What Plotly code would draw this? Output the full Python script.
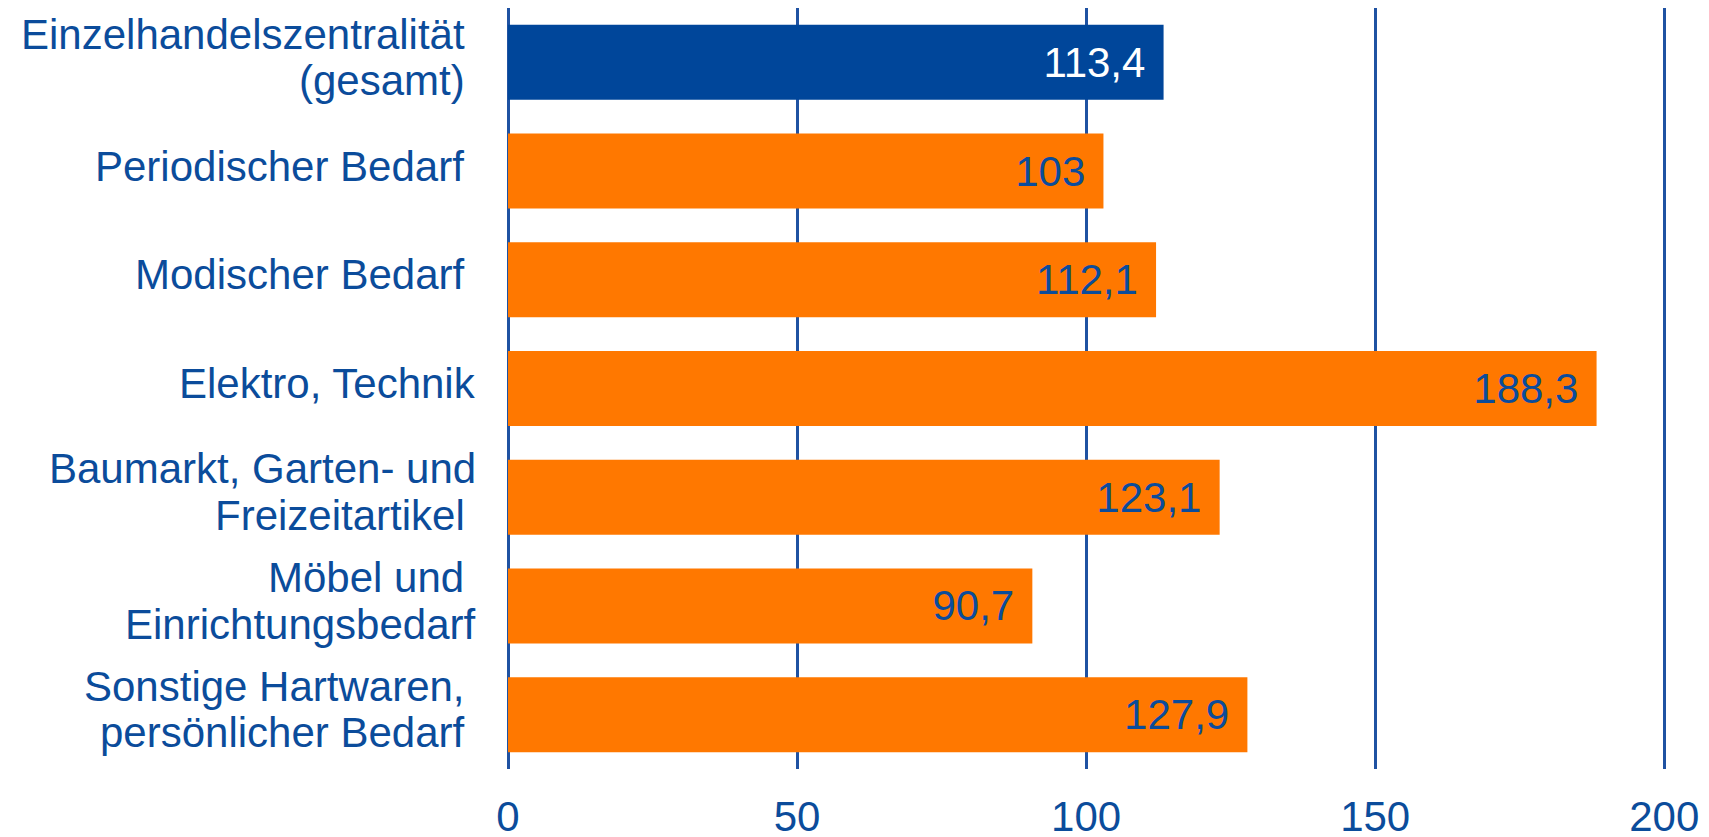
import plotly.graph_objects as go

categories = [
    "Einzelhandelszentralität\u00a0\n(gesamt)\u00a0",
    "Periodischer Bedarf\u00a0",
    "Modischer Bedarf\u00a0",
    "Elektro, Technik",
    "Baumarkt, Garten- und\nFreizeitartikel\u00a0",
    "Möbel und\u00a0\nEinrichtungsbedarf",
    "Sonstige Hartwaren,\u00a0\npersönlicher Bedarf\u00a0",
]
values = [113.4, 103, 112.1, 188.3, 123.1, 90.7, 127.9]
x_ticks = [0, 50, 100, 150, 200]

BLUE = "#00469a"
ORANGE = "#ff7800"
TXT = "#0b4c9b"
GRID = "#1f52a2"
FONT = "Liberation Sans, Arial, Helvetica, sans-serif"
FS = 42
LINE_STEP = 46.5

colors = [BLUE] + [ORANGE] * (len(values) - 1)
label_colors = ["white"] + [TXT] * (len(values) - 1)


def fmt(v):
    s = str(int(v)) if float(v).is_integer() else f"{v:.1f}".replace(".", ",")
    return s + "\u00a0\u200a"


fig = go.Figure(
    go.Bar(
        x=values,
        y=categories,
        orientation="h",
        marker=dict(color=colors, line=dict(width=0)),
        text=[fmt(v) for v in values],
        textposition="inside",
        insidetextanchor="end",
        textfont=dict(size=FS, color=label_colors, family=FONT),
        hoverinfo="skip",
    )
)

# category labels, one annotation per line for tighter line spacing
annotations = []
for cat in categories:
    lines = cat.split("\n")
    n = len(lines)
    for i, line in enumerate(lines):
        offset = ((n - 1) / 2 - i) * LINE_STEP + 5
        annotations.append(
            dict(
                x=0, y=cat, xref="x", yref="y",
                text=line, showarrow=False,
                xanchor="right", yanchor="middle",
                xshift=-30, yshift=offset,
                font=dict(size=FS, color=TXT, family=FONT),
            )
        )

fig.update_layout(
    width=1709,
    height=837,
    margin=dict(l=500, r=47, t=0, b=76),
    paper_bgcolor="white",
    plot_bgcolor="white",
    bargap=0.31,
    showlegend=False,
    font=dict(family=FONT, size=FS, color=TXT),
    annotations=annotations,
)
fig.update_xaxes(
    range=[0, 201],
    tickvals=x_ticks,
    ticktext=[str(t) for t in x_ticks],
    showgrid=True,
    gridcolor=GRID,
    gridwidth=2.5,
    zeroline=True,
    zerolinecolor=GRID,
    zerolinewidth=2.5,
    showline=False,
    ticks="",
    ticklabelstandoff=19,
    tickfont=dict(size=FS, color=TXT, family=FONT),
    fixedrange=True,
)
fig.update_yaxes(
    autorange="reversed",
    showgrid=False,
    showline=False,
    ticks="",
    showticklabels=False,
    fixedrange=True,
)

fig.write_html("out.html")
